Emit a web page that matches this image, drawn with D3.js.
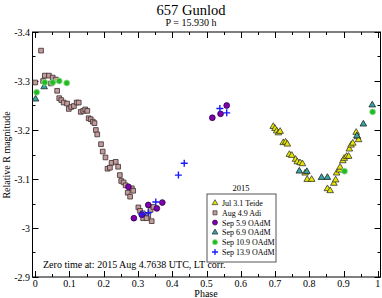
<!DOCTYPE html>
<html>
<head>
<meta charset="utf-8">
<script src="https://cdn.jsdelivr.net/npm/d3@7"></script>
<style>
  body { margin: 0; background: #fff; }
  text { font-family: "Liberation Serif", "DejaVu Serif", serif; fill: #000; }
</style>
</head>
<body>
<div id="vis"></div>
<script>
// ---- data: [phase, relative R magnitude] ----
var teide = [[0.695,-3.207],[0.700,-3.203],[0.705,-3.198],[0.710,-3.194],[0.715,-3.197],
  [0.724,-3.174],[0.731,-3.175],[0.736,-3.171],[0.742,-3.150],[0.749,-3.148],[0.760,-3.140],
  [0.765,-3.135],[0.773,-3.133],[0.780,-3.131],[0.788,-3.112],[0.794,-3.099],[0.807,-3.099],
  [0.853,-3.080],[0.861,-3.076],[0.872,-3.091],[0.877,-3.098],[0.880,-3.112],[0.888,-3.118],
  [0.890,-3.124],[0.898,-3.137],[0.902,-3.142],[0.909,-3.146],[0.915,-3.146],[0.917,-3.161],
  [0.922,-3.169],[0.927,-3.173],[0.937,-3.195],[0.941,-3.186],[0.944,-3.180]];
var adi = [[0.000,-3.297],[0.017,-3.362],[0.023,-3.300],[0.028,-3.311],[0.040,-3.311],
  [0.046,-3.295],[0.051,-3.307],[0.060,-3.303],[0.064,-3.280],[0.070,-3.265],[0.076,-3.261],
  [0.083,-3.256],[0.093,-3.254],[0.098,-3.243],[0.105,-3.247],[0.113,-3.249],[0.121,-3.256],
  [0.127,-3.256],[0.133,-3.237],[0.140,-3.239],[0.146,-3.242],[0.152,-3.239],[0.156,-3.224],
  [0.162,-3.222],[0.168,-3.217],[0.173,-3.214],[0.177,-3.200],[0.181,-3.191],[0.192,-3.171],
  [0.197,-3.156],[0.205,-3.144],[0.211,-3.121],[0.218,-3.123],[0.223,-3.133],[0.235,-3.135],
  [0.242,-3.125],[0.247,-3.108],[0.251,-3.096],[0.258,-3.093],[0.264,-3.087],[0.282,-3.081],
  [0.286,-3.076],[0.270,-3.072],[0.277,-3.064],[0.301,-3.042],[0.306,-3.035],[0.314,-3.030],
  [0.323,-3.023],[0.330,-3.025],[0.337,-3.037],[0.345,-3.043],[0.315,-3.020],[0.325,-3.020],
  [0.340,-3.014]];
var sep5 = [[0.272,-3.084],[0.288,-3.020],[0.311,-3.027],[0.330,-3.047],[0.355,-3.040],
  [0.371,-3.052],[0.517,-3.225],[0.541,-3.233],[0.559,-3.250]];
var sep6 = [[0.001,-3.263],[0.026,-3.288],[0.771,-3.116],[0.793,-3.115],[0.836,-3.103],
  [0.853,-3.103],[0.939,-3.188],[0.958,-3.212],[0.984,-3.251]];
var sep10 = [[0.004,-3.277],[0.028,-3.297],[0.051,-3.297],[0.070,-3.300],[0.092,-3.296],
  [0.903,-3.116],[0.985,-3.237]];
var sep13 = [[0.312,-3.028],[0.330,-3.031],[0.352,-3.053],[0.418,-3.108],[0.435,-3.132],
  [0.539,-3.244],[0.559,-3.235]];

var legendNames = ["Jul 3.1 Teide", "Aug 4.9 Adi", "Sep 5.9 OAdM", "Sep 6.9 OAdM", "Sep 10.9 OAdM", "Sep 13.9 OAdM"];
var xTicks = [0, 0.1, 0.2, 0.3, 0.4, 0.5, 0.6, 0.7, 0.8, 0.9, 1];
var yTicks = [-3.4, -3.3, -3.2, -3.1, -3, -2.9];

var series = [
  {data: teide, sym: d3.symbolTriangle, size: 19, fill: "#e6e600", stroke: "#333"},
  {data: adi,   sym: d3.symbolSquare,   size: 22, fill: "#c29c9c", stroke: "#3a2c2c"},
  {data: sep5,  sym: d3.symbolCircle,   size: 26, fill: "#8000b0", stroke: "#2a0040"},
  {data: sep6,  sym: d3.symbolTriangle, size: 19, fill: "#33a6a6", stroke: "#222"},
  {data: sep10, sym: d3.symbolCircle,   size: 28, fill: "#22bb22", stroke: "#9be09b"},
  {data: sep13, sym: d3.symbolCross,    size: 30, fill: "none",    stroke: "#1a1aff", plus: true}
];

var W = 382, H = 298;
var pLeft = 32.5, pRight = 380.5, pTop = 32, pBottom = 277;

var svg = d3.select("#vis").append("svg")
  .attr("width", W).attr("height", H);

var x = d3.scaleLinear().domain([-0.008, 1.008]).range([pLeft, pRight]);
var y = d3.scaleLinear().domain([-3.4, -2.9]).range([pTop, pBottom]);

// frame
svg.append("rect")
  .attr("x", pLeft).attr("y", pTop)
  .attr("width", pRight - pLeft).attr("height", pBottom - pTop)
  .attr("fill", "none").attr("stroke", "#000").attr("stroke-width", 1);

var xMinor = d3.range(0.05, 1, 0.1);
var yMinor = d3.range(-3.35, -2.9, 0.1);

var tickG = svg.append("g").attr("stroke", "#000").attr("stroke-width", 1);
function xticks(vals, len) {
  vals.forEach(function(v) {
    var px = Math.round(x(v)) + 0.5;
    tickG.append("line").attr("x1", px).attr("x2", px).attr("y1", pBottom).attr("y2", pBottom - len);
    tickG.append("line").attr("x1", px).attr("x2", px).attr("y1", pTop).attr("y2", pTop + len);
  });
}
function yticks(vals, len) {
  vals.forEach(function(v) {
    var py = Math.round(y(v)) + 0.5;
    tickG.append("line").attr("x1", pLeft).attr("x2", pLeft + len).attr("y1", py).attr("y2", py);
    tickG.append("line").attr("x1", pRight).attr("x2", pRight - len).attr("y1", py).attr("y2", py);
  });
}
xticks(xTicks, 6); xticks(xMinor, 3);
yticks(yTicks, 6); yticks(yMinor, 3);

// tick labels
svg.append("g").selectAll("text").data(xTicks).enter().append("text")
  .attr("x", function(d) { return x(d); })
  .attr("y", 286.5)
  .attr("text-anchor", "middle")
  .style("font-size", "10px")
  .text(function(d) { return String(d); });

svg.append("g").selectAll("text").data(yTicks).enter().append("text")
  .attr("x", 30)
  .attr("y", function(d) { return y(d) + 3.5; })
  .attr("text-anchor", "end")
  .style("font-size", "10px")
  .text(function(d) { return String(d); });

// titles
svg.append("text").attr("x", 191).attr("y", 15).attr("text-anchor", "middle")
  .style("font-size", "14.5px").text("657 Gunlod");
svg.append("text").attr("x", 191).attr("y", 26).attr("text-anchor", "middle")
  .style("font-size", "10px").text("P = 15.930 h");
svg.append("text").attr("x", 206).attr("y", 297).attr("text-anchor", "middle")
  .style("font-size", "10px").text("Phase");
svg.append("text").attr("transform", "translate(10,155) rotate(-90)")
  .attr("text-anchor", "middle").style("font-size", "10px").text("Relative R magnitude");
svg.append("text").attr("x", 43).attr("y", 268)
  .style("font-size", "10px").text("Zero time at: 2015 Aug 4.7638 UTC, LT corr.");

// points
series.forEach(function(s) {
  var g = svg.append("g");
  g.selectAll("path").data(s.data).enter().append("path")
    .attr("transform", function(d) { return "translate(" + x(d[0]) + "," + y(d[1]) + ")"; })
    .attr("d", s.plus ? "M-3.5,0H3.5M0,-3.5V3.5" : d3.symbol().type(s.sym).size(s.size)())
    .attr("fill", s.fill)
    .attr("stroke", s.stroke)
    .attr("stroke-width", s.plus ? 1.4 : 0.8);
});

// legend
var lg = svg.append("g").attr("transform", "translate(207,194)");
lg.append("rect").attr("width", 69).attr("height", 68)
  .attr("fill", "#fff").attr("stroke", "#555").attr("stroke-width", 1);
svg.append("text").attr("x", 241).attr("y", 191).attr("text-anchor", "middle")
  .style("font-size", "8.5px").text("2015");
var items = lg.selectAll("g.item").data(series).enter().append("g")
  .attr("transform", function(d, i) { return "translate(8," + (9 + i * 9.8) + ")"; });
items.append("path")
  .attr("d", function(s) { return s.plus ? "M-3,0H3M0,-3V3" : d3.symbol().type(s.sym).size(s.size * 0.75)(); })
  .attr("fill", function(s) { return s.fill; })
  .attr("stroke", function(s) { return s.stroke; })
  .attr("stroke-width", function(s) { return s.plus ? 1.3 : 0.7; });
items.append("text").attr("x", 7).attr("y", 3)
  .style("font-size", "8px")
  .text(function(d, i) { return legendNames[i]; });
</script>
</body>
</html>
